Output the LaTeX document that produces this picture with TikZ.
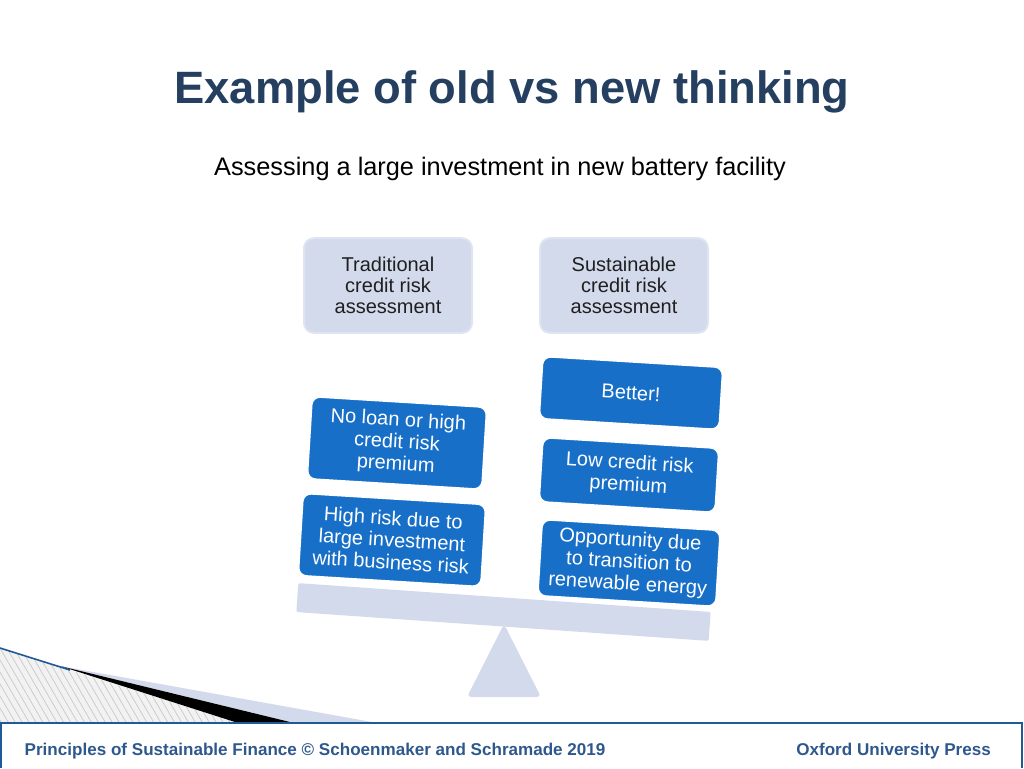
\documentclass[tikz,border=0pt]{standalone}
\usepackage{fontspec}
\setmainfont{Liberation Sans}
\usetikzlibrary{patterns.meta}
\definecolor{titleblue}{RGB}{36,63,96}
\definecolor{footblue}{RGB}{46,88,140}
\definecolor{frameblue}{RGB}{31,90,150}
\definecolor{lav}{RGB}{211,218,236}
\definecolor{lavedge}{RGB}{223,228,242}
\definecolor{boxblue}{RGB}{23,111,200}
\begin{document}
\begin{tikzpicture}[x=0.75pt,y=-0.75pt,
  headbox/.style={rectangle, rounded corners=7.5pt, fill=lav, draw=lavedge, line width=1.5pt,
    minimum width=126pt, minimum height=71pt, align=center,
    font=\fontsize{15}{16}\selectfont, text=black!88},
  bluebox/.style={rectangle, rounded corners=6pt, fill=boxblue, draw=white, line width=1pt,
    align=center, text=white, font=\fontsize{15}{16.5}\selectfont, rotate=-3.5, inner sep=2pt},
  footfont/.style={font=\fontsize{12.8}{14}\selectfont\bfseries, text=footblue}
]
\useasboundingbox (0,0) rectangle (1024,768);

% bottom-left decoration
\fill[gray!10] (0,648) -- (235,722) -- (0,722) -- cycle;
\fill[pattern={Lines[angle=-60, distance=4.5pt, line width=0.6pt]}, pattern color=gray!40] (0,648) -- (235,722) -- (0,722) -- cycle;
\fill[lav] (60,666) -- (372,722) -- (290,722) -- cycle;
\fill[black] (60,666) -- (290,722) -- (235,722) -- cycle;
\draw[frameblue, line width=1.2pt] (0,648) -- (70,670);

% footer frame
\draw[frameblue, line width=1.5pt] (1,768) -- (1,723) -- (1022,723) -- (1022,768);

% titles
\node[font=\fontsize{34}{40}\selectfont\bfseries, text=titleblue, anchor=base] (title) at (512,103) {Example of old vs new thinking};
\node[font=\fontsize{19}{22}\selectfont, anchor=base] (sub) at (500,175) {Assessing a large investment in new battery facility};

% header boxes
\node[headbox] (trad) at (388,285.5) {Traditional\\credit risk\\assessment};
\node[headbox] (sust) at (624,285.5) {Sustainable\\credit risk\\assessment};

% balance
\fill[lav, rounded corners=3pt] (504,624) -- (541,697) -- (467,697) -- cycle;
\node[rectangle, fill=lav, minimum width=310pt, minimum height=21.75pt, rotate=-4, inner sep=0pt, rounded corners=1.5pt] (beam) at (503.5,612) {};

% blue boxes
\node[bluebox, minimum width=131pt, minimum height=61.5pt] (noloan) at (397,443) {No loan or high\\credit risk\\premium};
\node[bluebox, minimum width=137pt, minimum height=61.5pt] (highrisk) at (392,540) {High risk due to\\large investment\\with business risk};
\node[bluebox, minimum width=135pt, minimum height=46.5pt] (better) at (631,393) {Better!};
\node[bluebox, minimum width=132pt, minimum height=48pt] (low) at (629,475) {Low credit risk\\premium};
\node[bluebox, minimum width=133.5pt, minimum height=57pt] (opp) at (629,563) {Opportunity due\\to transition to\\renewable energy};

% footer texts
\node[footfont, anchor=base west] (foot) at (20,755) {Principles of Sustainable Finance \textcopyright{} Schoenmaker and Schramade 2019};
\node[footfont, anchor=base east] (oup) at (995.5,755) {Oxford University Press};
\end{tikzpicture}
\end{document}
